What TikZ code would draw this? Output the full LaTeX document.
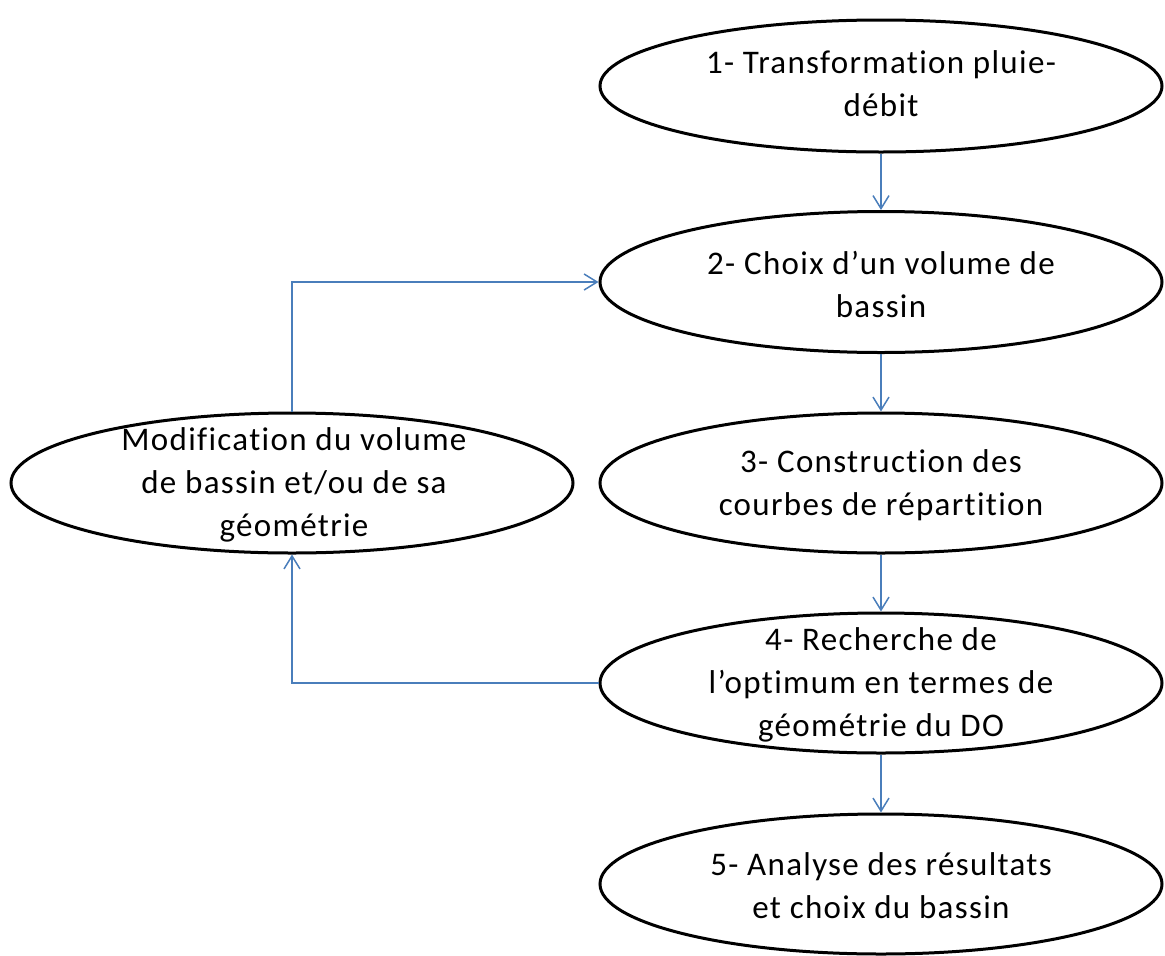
\documentclass[tikz,border=0pt]{standalone}
\usepackage{fontspec}
\setmainfont{Carlito}[Ligatures=NoCommon, LetterSpace=4]
\usetikzlibrary{shapes.geometric,arrows.meta}
\definecolor{conn}{HTML}{4A7EBB}
\tikzset{
  ell/.style={ellipse, draw=black, line width=3pt, fill=white, inner sep=0pt,
              minimum width=562pt, minimum height=140pt},
  txt/.style={align=center, inner sep=0pt, font=\fontsize{33}{43}\selectfont},
  arr/.style={draw=conn, line width=1.5pt,
              -{Straight Barb[length=13pt,width=16pt,line width=1.5pt]}}
}
\begin{document}
\begin{tikzpicture}[x=1pt,y=-1pt]
\useasboundingbox (0,0) rectangle (1165,956);
\node[ell, minimum height=132pt] (e1) at (881,86) {};
\node[ell, minimum height=141pt] (e2) at (881,282) {};
\node[ell] (e3) at (881,483) {};
\node[ell] (e4) at (881,683) {};
\node[ell] (e5) at (881,884) {};
\node[ell] (em) at (292,483) {};

\node[txt] (t1) at (881,84) {1- Transformation pluie-\\débit};
\node[txt] (t2) at (881,284) {2- Choix d’un volume de\\bassin};
\node[txt] (t3) at (881,485) {3- Construction des\\courbes de répartition};
\node[txt] (t4) at (881,685) {4- Recherche de\\l’optimum en termes de\\géométrie du DO};
\node[txt] (t5) at (881,886) {5- Analyse des résultats\\et choix du bassin};
\node[txt] (tm) at (294,485) {Modification du volume\\de bassin et/ou de sa\\géométrie};

\draw[arr] (e1) -- (e2);
\draw[arr] (e2) -- (e3);
\draw[arr] (e3) -- (e4);
\draw[arr] (e4) -- (e5);
\draw[arr] (e4.west) -| (em.south);
\draw[arr] (em.north) |- (e2.west);
\end{tikzpicture}
\end{document}
